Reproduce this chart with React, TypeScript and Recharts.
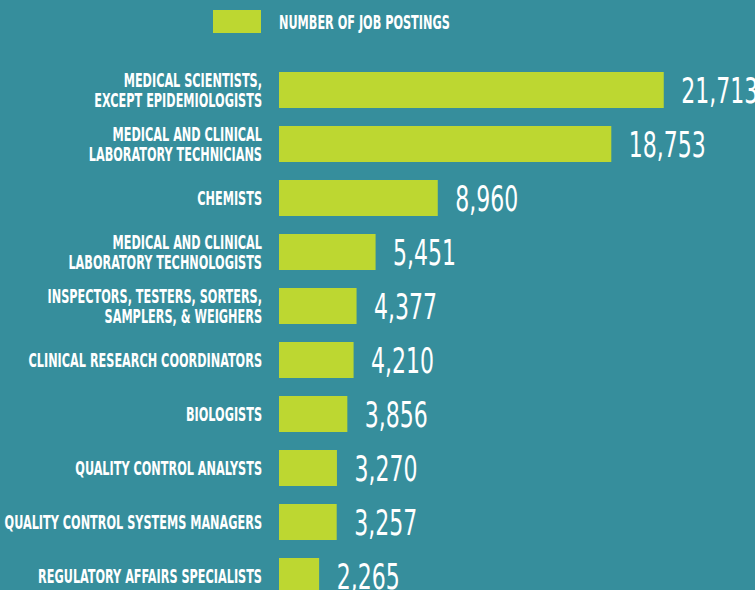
import { BarChart, Bar, XAxis, YAxis, Legend, LabelList } from "recharts";

const categories = [
  "MEDICAL SCIENTISTS,\nEXCEPT EPIDEMIOLOGISTS",
  "MEDICAL AND CLINICAL\nLABORATORY TECHNICIANS",
  "CHEMISTS",
  "MEDICAL AND CLINICAL\nLABORATORY TECHNOLOGISTS",
  "INSPECTORS, TESTERS, SORTERS,\nSAMPLERS, & WEIGHERS",
  "CLINICAL RESEARCH COORDINATORS",
  "BIOLOGISTS",
  "QUALITY CONTROL ANALYSTS",
  "QUALITY CONTROL SYSTEMS MANAGERS",
  "REGULATORY AFFAIRS SPECIALISTS",
];
const postings = [21713, 18753, 8960, 5451, 4377, 4210, 3856, 3270, 3257, 2265];
const seriesName = "NUMBER OF JOB POSTINGS";

const data = categories.map((name, i) => ({ name, postings: postings[i] }));

const bg = "#368e9c";
const lime = "#bdd731";
// no condensed display font available, so squeeze DejaVu horizontally
const labelFont = "'DejaVu Sans Condensed', 'DejaVu Sans', sans-serif";
const squeeze = 0.66;

function CategoryTick({ x, y, payload }: any) {
  const lines = String(payload.value).split("\n");
  const first = -((lines.length - 1) * 20.7) / 2 + 7;
  return (
    <g transform={`translate(${x},${y}) scale(${squeeze},1)`}>
      <text textAnchor="end" fill="#fff" fontFamily={labelFont} fontWeight={700} fontSize={19}>
        {lines.map((l, i) => (
          <tspan key={i} x={0} y={first + i * 20.7}>
            {l}
          </tspan>
        ))}
      </text>
    </g>
  );
}

function ValueLabel({ x, y, width, height, value }: any) {
  return (
    <text
      transform={`translate(${x + width + 17.5},${y + height / 2 + 12.7}) scale(0.7,1)`}
      fill="#fff"
      fontFamily={labelFont}
      fontSize={35}
    >
      {Number(value).toLocaleString("en-US")}
    </text>
  );
}

function LegendBox() {
  return (
    <svg width={755} height={44} style={{ display: "block" }}>
      <rect x={213} y={10} width={48} height={23} fill={lime} />
      <text
        transform={`translate(279,28.7) scale(${squeeze},1)`}
        fill="#fff"
        fontFamily={labelFont}
        fontWeight={700}
        fontSize={19}
      >
        {seriesName}
      </text>
    </svg>
  );
}

export default function App() {
  return (
    <div
      style={{
        position: "absolute",
        left: 0,
        top: 0,
        width: 755,
        height: 590,
        overflow: "hidden",
        background: bg,
      }}
    >
      <BarChart
        width={755}
        height={603}
        data={data}
        layout="vertical"
        margin={{ top: 19, right: 33, bottom: 0, left: 0 }}
      >
        <XAxis type="number" domain={[0, 25000]} hide />
        <YAxis
          type="category"
          dataKey="name"
          width={279}
          axisLine={false}
          tickLine={false}
          tickSize={0}
          tickMargin={17}
          interval={0}
          tick={<CategoryTick />}
        />
        <Legend
          verticalAlign="top"
          content={<LegendBox />}
          wrapperStyle={{ top: 0, left: 0, width: 755, height: 44 }}
        />
        <Bar dataKey="postings" name={seriesName} fill={lime} barSize={36} isAnimationActive={false}>
          <LabelList dataKey="postings" content={<ValueLabel />} />
        </Bar>
      </BarChart>
    </div>
  );
}
